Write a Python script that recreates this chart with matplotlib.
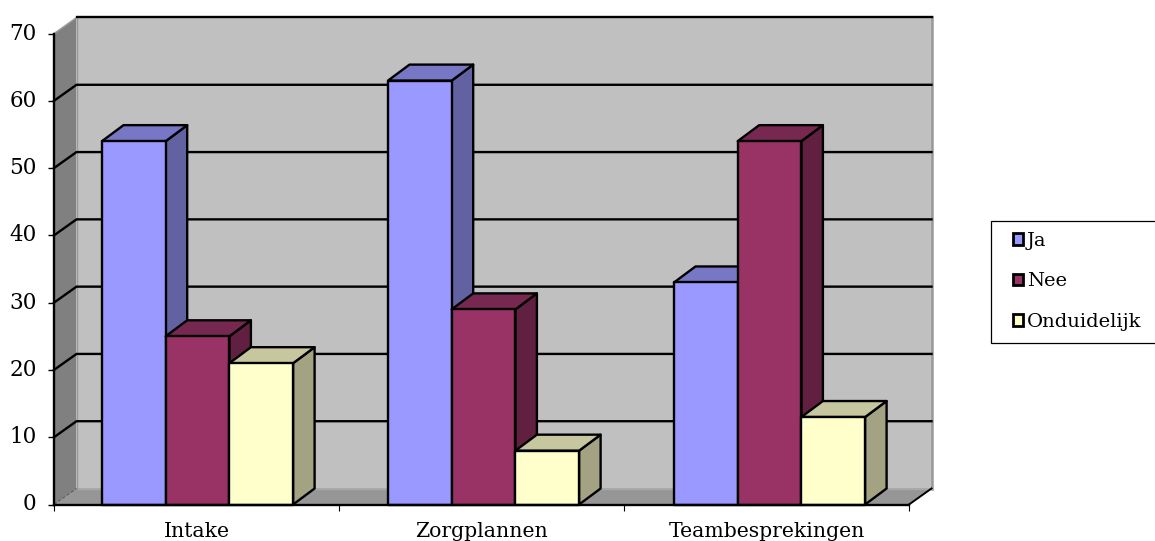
import matplotlib
matplotlib.use("Agg")
import matplotlib.pyplot as plt
from matplotlib.patches import Polygon, Patch, Rectangle

categories = ['Intake', 'Zorgplannen', 'Teambesprekingen']
ja = [54, 63, 33]
nee = [25, 29, 54]
onduidelijk = [21, 8, 13]
series_names = ['Ja', 'Nee', 'Onduidelijk']
y_ticks = [0, 10, 20, 30, 40, 50, 60, 70]

# front, top, side
colours = [('#9999FF', '#7777C6', '#6262A3'),
           ('#993366', '#772850', '#622041'),
           ('#FFFFCC', '#C6C69F', '#A3A383')]

W, H = 1155, 541
plt.rcParams['font.family'] = ['DejaVu Serif']
fig = plt.figure(figsize=(W / 100, H / 100), dpi=100)
ax = fig.add_axes([54 / W, (H - 504.5) / H, 855 / W, 471 / H])
ax.set_xlim(0, 3)
ax.set_ylim(0, 70)

# depth of the fake 3d, in data units
dx = 22.5 / 285
dy = 16 / (471 / 70)
bar_dx = 21.5 / 285
bar_w = 63.7 / 285
bar_start = 48 / 285
group_step = 286 / 285


def poly(pts, fc, ec='none', lw=0, z=1):
    ax.add_patch(Polygon(pts, closed=True, facecolor=fc, edgecolor=ec, linewidth=lw,
                         joinstyle='round', clip_on=False, zorder=z))


# walls and floor
poly([(dx, dy), (3 + dx, dy), (3 + dx, 70 + dy), (dx, 70 + dy)], '#C0C0C0', z=1)
poly([(0, 0), (dx, dy), (dx, 70 + dy), (0, 70)], '#808080', z=1)
poly([(0, 0), (3, 0), (3 + dx, dy), (dx, dy)], '#969696', z=1)
ax.plot([3 + dx, 3 + dx], [70 + dy, dy], color='#999999', lw=1.8, clip_on=False, zorder=1.5)
ax.plot([3, 3 + dx], [0, dy], color='black', lw=1.4, clip_on=False, zorder=1.6)
ax.plot([dx, 3 + dx], [dy, dy], color='#A8A8A8', lw=1, clip_on=False, zorder=1.5)
ax.plot([dx, dx], [dy, 70 + dy], color='#999999', lw=1, clip_on=False, zorder=1.5)
ax.plot([0, dx], [70, 70 + dy], color='#A0A0A0', lw=1, clip_on=False, zorder=1.5)
ax.plot([0, dx], [0, dy], color='#555555', lw=0.7, ls='--', clip_on=False, zorder=1.5)
ax.plot([dx, 3 + dx], [70 + dy, 70 + dy], color='black', lw=1.7, clip_on=False, zorder=2)

for v in y_ticks[1:-1]:
    ax.plot([0, dx, 3 + dx], [v, v + dy, v + dy], color='black', lw=1.7, clip_on=False, zorder=2,
            solid_joinstyle='round')

# bars, left to right so later ones cover the sides of earlier ones
z = 3
for g in range(len(categories)):
    for s, vals in enumerate([ja, nee, onduidelijk]):
        x0 = g * group_step + bar_start + s * bar_w
        x1 = x0 + bar_w
        v = vals[g]
        front, top, side = colours[s]
        poly([(x1, 0), (x1 + bar_dx, dy), (x1 + bar_dx, v + dy), (x1, v)], side, 'black', 1.7, z)
        poly([(x0, v), (x1, v), (x1 + bar_dx, v + dy), (x0 + bar_dx, v + dy)], top, 'black', 1.7, z)
        poly([(x0, 0), (x1, 0), (x1, v), (x0, v)], front, 'black', 1.7, z)
        z += 1

for name in ['top', 'right']:
    ax.spines[name].set_visible(False)
for name in ['left', 'bottom']:
    ax.spines[name].set_linewidth(1.7)
    ax.spines[name].set_zorder(50)

ax.patch.set_visible(False)
ax.set_yticks(y_ticks)
ax.tick_params(axis='y', length=4.5, width=1, pad=8, labelsize=15.5)
for lab in ax.get_yticklabels():
    lab.set_verticalalignment('center')
ax.set_xticks([0, 1, 2, 3])
ax.set_xticklabels([])
ax.tick_params(axis='x', which='major', length=4, width=0.8)
ax.set_xticks([0.5, 1.5, 2.5], categories, minor=True)
ax.tick_params(axis='x', which='minor', length=0, pad=12.5, labelsize=14.7)

# legend frame runs off the right edge of the picture
fig.add_artist(Rectangle((991 / W, (H - 342.5) / H), 170 / W, 121 / H, transform=fig.transFigure,
                         facecolor='white', edgecolor='black', linewidth=0.9))
handles = [Patch(facecolor=colours[i][0], edgecolor='black', linewidth=2) for i in range(3)]
leg = fig.legend(handles, series_names, loc='upper left', bbox_to_anchor=(1012.5 / W, (H - 232) / H),
                 fontsize=14, frameon=False, handlelength=0.55, handleheight=0.55, handletextpad=0.2,
                 labelspacing=1.15, borderaxespad=0, borderpad=0)

fig.savefig('out.png', dpi=100)
